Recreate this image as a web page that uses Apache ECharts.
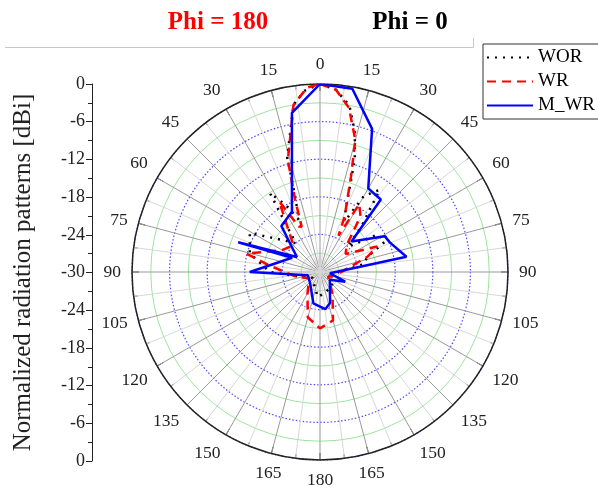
<!DOCTYPE html>
<html>
<head>
<meta charset="utf-8">
<script src="https://cdn.jsdelivr.net/npm/echarts@6/dist/echarts.min.js"></script>
<style>html,body{margin:0;padding:0;background:#fff}#c{width:598px;height:488px}</style>
</head>
<body>
<div id="c"></div>
<script>
// Angle tick labels (degrees) and radial range
var angleTicks = [0,15,30,45,60,75,90,105,120,135,150,165,180,195,210,225,240,255,270,285,300,315,330,345];
var leftTicks = [0,-6,-12,-18,-24,-30,-24,-18,-12,-6,0];
var seriesNames = ['WOR','WR','M_WR'];

// WOR (black dotted)
var worAngle = [0,5,10,14,17,19,22,26,30,36,42,48,57,65,72,80,90,110,140,170,185,200,230,255,270,285,299,310,320,327.6,333,338,342,344,351,355,360];
var worValue = [0,-0.8,-3,-7,-11,-15,-19,-21,-16,-13.8,-20,-24,-19,-18.6,-22,-23,-27,-28,-27,-26.5,-26,-27.5,-28.5,-27,-22,-18.4,-17.2,-22,-24,-15.1,-18,-21,-17,-11,-3,-1,0];

// WR (red dashed)
var wrAngle = [0,5,10,15,18,21,24,27,30,36,45,55,66,72,80,95,120,150,165,180,195,210,240,260,277,284,300,315,330,335,338,341,344,351,356,360];
var wrValue = [0,-0.8,-3.4,-8.2,-14,-18,-20.3,-23.5,-17.5,-19,-24,-25,-20,-22,-25,-27,-28.5,-26,-22,-21,-22.5,-26,-28,-26,-22,-17.9,-23,-24,-17,-22,-22.2,-17.8,-11.4,-3,-0.5,0];

// M_WR (blue solid)
var mwrAngle = [0,10,20,30,40,46,61,67,80,97,111,128,162,172,192,221,255,270,297,290,303,320,335,350,360];
var mwrValue = [0,-0.3,-5.7,-14.6,-14.9,-23,-18.2,-17.9,-16,-28.4,-25.7,-28,-24.8,-24,-24.9,-27.6,-28,-18.8,-25,-16.1,-25.6,-20.4,-19.4,-4.2,0];

function pairs(a, v){ return a.map(function(x,i){ return [v[i], x]; }); }

var serif = 'Liberation Serif';
var chart = echarts.init(document.getElementById('c'), null, {renderer:'canvas'});
chart.setOption({
  animation:false,
  backgroundColor:'#fff',
  title:[
    {text:'Phi = 180', left:213, top:5, textAlign:'center', textStyle:{color:'#ff0000', fontFamily:serif, fontWeight:'bold', fontSize:25}},
    {text:'Phi = 0', left:405, top:5, textAlign:'center', textStyle:{color:'#000', fontFamily:serif, fontWeight:'bold', fontSize:25}}
  ],
  graphic:[
    {type:'line', shape:{x1:5,y1:47.5,x2:473.5,y2:47.5}, style:{stroke:'#c8c8c8', lineWidth:1}},
    {type:'line', shape:{x1:473.5,y1:38,x2:473.5,y2:47.5}, style:{stroke:'#c8c8c8', lineWidth:1}}
  ],
  legend:{
    orient:'vertical', left:483, top:44, itemWidth:46, itemHeight:14, itemGap:5,
    padding:[4,6,4,3], borderColor:'#333', borderWidth:1, backgroundColor:'#fff',
    itemStyle:{opacity:0},
    textStyle:{fontFamily:serif, fontSize:19, color:'#000', padding:[0,0,0,0]},
    data:seriesNames
  },
  grid:{left:92, top:84, height:377, width:1},
  xAxis:{type:'value', show:false},
  yAxis:{
    type:'value', min:-30, max:30, interval:6,
    axisLine:{show:true, lineStyle:{color:'#222', width:1}},
    axisTick:{show:true, length:6, lineStyle:{color:'#222'}},
    minorTick:{show:true, splitNumber:2, length:4, lineStyle:{color:'#222'}},
    splitLine:{show:false},
    axisLabel:{fontFamily:serif, fontSize:18, color:'#222', margin:7,
      formatter:function(v){ var r = Math.abs(v)-30; return r===0 ? '0' : String(r); }},
    name:'Normalized radiation patterns [dBi]', nameLocation:'middle', nameGap:56, nameRotate:90,
    nameTextStyle:{fontFamily:serif, fontSize:25, color:'#222'}
  },
  polar:{center:[320,272], radius:188},
  angleAxis:{
    type:'value', min:0, max:360, interval:15, startAngle:90, clockwise:true,
    axisLine:{show:true, lineStyle:{color:'#222', width:1.5}},
    axisTick:{show:true, inside:true, length:7, lineStyle:{color:'#222'}},
    minorTick:{show:true, splitNumber:2, length:4, lineStyle:{color:'#222'}},
    splitLine:{show:true, lineStyle:{color:'#999', width:1}},
    minorSplitLine:{show:true, lineStyle:{color:'#d8d8d8', width:1}},
    axisLabel:{fontFamily:serif, fontSize:17.5, color:'#222', margin:11,
      formatter:function(v){ if(v>=360) return ''; return String(v<=180 ? v : 360-v); }}
  },
  radiusAxis:{
    type:'value', min:-30, max:0, interval:6,
    axisLine:{show:false}, axisTick:{show:false}, axisLabel:{show:false},
    splitLine:{show:true, lineStyle:{color:'#4a4aff', width:1.2, type:[1.5,2]}},
    minorSplitLine:{show:true, lineStyle:{color:'#9de69d', width:1}},
    minorTick:{show:false, splitNumber:2}
  },
  series:[
    {name:'WOR', type:'line', coordinateSystem:'polar', symbol:'none', z:3,
     lineStyle:{color:'#000', width:2.5, type:[2,6]}, itemStyle:{color:'#000'},
     data:pairs(worAngle, worValue)},
    {name:'WR', type:'line', coordinateSystem:'polar', symbol:'none', z:4,
     lineStyle:{color:'#ff0000', width:2.5, type:[9,6]}, itemStyle:{color:'#ff0000'},
     data:pairs(wrAngle, wrValue)},
    {name:'M_WR', type:'line', coordinateSystem:'polar', symbol:'none', z:5,
     lineStyle:{color:'#0000ff', width:2.5}, itemStyle:{color:'#0000ff'},
     data:pairs(mwrAngle, mwrValue)}
  ]
});
</script>
</body>
</html>
